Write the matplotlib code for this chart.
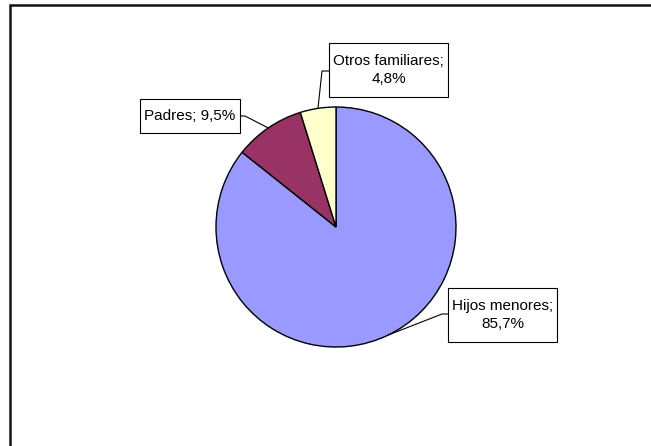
import numpy as np
import matplotlib
matplotlib.use("Agg")
import matplotlib.pyplot as plt
from matplotlib.patches import Rectangle

categories = ["Hijos menores", "Padres", "Otros familiares"]
shares = [85.7, 9.5, 4.8]
colors = ["#9999FF", "#993366", "#FFFFCC"]

W, H = 651, 446
fig = plt.figure(figsize=(W / 100, H / 100), dpi=100)
ax = fig.add_axes([0, 0, 1, 1])

# pixel layout, y measured from the top
cx, cy, r = 336, 227, 120

ax.pie(shares, colors=colors, startangle=90, counterclock=False,
       center=(cx, H - cy), radius=r,
       wedgeprops=dict(edgecolor="black", linewidth=1.0))
ax.set_xlim(0, W)
ax.set_ylim(0, H)
ax.set_aspect("auto")
ax.axis("off")

# outer chart frame (runs off the right and bottom edges)
ax.add_patch(Rectangle((10, -20), 700, H - 5 + 20, fill=False,
                       edgecolor="#111111", linewidth=1.8, zorder=5))

# label boxes: (left, top, right, bottom), elbow of the leader, box side joined
boxes = [
    ((448, 288, 557, 342), (442, 314), (448, 314)),
    ((140, 99, 240, 133), (245, 116), (240, 116)),
    ((329, 43, 448, 97), (322, 71), (329, 71)),
]

def fmt(v):
    return ("%.1f%%" % v).replace(".", ",")

texts = [
    categories[0] + ";\n" + fmt(shares[0]),
    categories[1] + "; " + fmt(shares[1]),
    categories[2] + ";\n" + fmt(shares[2]),
]

start = 0.0
for i, v in enumerate(shares):
    mid = start + v / 2.0
    start += v
    ang = np.deg2rad(mid / 100.0 * 360.0)
    ex = cx + r * np.sin(ang)
    ey = cy - r * np.cos(ang)

    (x0, y0, x1, y1), elbow, side = boxes[i]
    ax.plot([ex, elbow[0], side[0]], [H - ey, H - elbow[1], H - side[1]],
            color="black", linewidth=0.8, zorder=3)
    ax.add_patch(Rectangle((x0, H - y1), x1 - x0, y1 - y0, facecolor="white",
                           edgecolor="black", linewidth=0.8, zorder=4))
    ax.text((x0 + x1) / 2, H - (y0 + y1) / 2, texts[i], ha="center", va="center",
            fontsize=11, family="Liberation Sans", linespacing=1.4, zorder=6)

fig.savefig("out.png", dpi=100, facecolor="white")
